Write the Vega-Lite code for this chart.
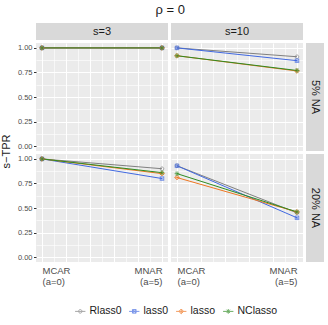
{
  "$schema": "https://vega.github.io/schema/vega-lite/v6.json",
  "padding": {"left": 0, "top": 4, "right": 0, "bottom": 0},
  "title": {"text": "ρ = 0", "fontSize": 13, "fontWeight": "normal", "color": "#1a1a1a", "anchor": "middle", "offset": 6, "dx": 8},
  "datasets": {
    "d": [
      {"s": "s=3", "na": "5% NA", "a": 0, "method": "Rlass0", "tpr": 1.0},
      {"s": "s=3", "na": "5% NA", "a": 5, "method": "Rlass0", "tpr": 1.0},
      {"s": "s=3", "na": "5% NA", "a": 0, "method": "lass0", "tpr": 1.0},
      {"s": "s=3", "na": "5% NA", "a": 5, "method": "lass0", "tpr": 1.0},
      {"s": "s=3", "na": "5% NA", "a": 0, "method": "lasso", "tpr": 1.0},
      {"s": "s=3", "na": "5% NA", "a": 5, "method": "lasso", "tpr": 1.0},
      {"s": "s=3", "na": "5% NA", "a": 0, "method": "NClasso", "tpr": 1.0},
      {"s": "s=3", "na": "5% NA", "a": 5, "method": "NClasso", "tpr": 1.0},
      {"s": "s=10", "na": "5% NA", "a": 0, "method": "Rlass0", "tpr": 1.0},
      {"s": "s=10", "na": "5% NA", "a": 5, "method": "Rlass0", "tpr": 0.91},
      {"s": "s=10", "na": "5% NA", "a": 0, "method": "lass0", "tpr": 1.0},
      {"s": "s=10", "na": "5% NA", "a": 5, "method": "lass0", "tpr": 0.87},
      {"s": "s=10", "na": "5% NA", "a": 0, "method": "lasso", "tpr": 0.92},
      {"s": "s=10", "na": "5% NA", "a": 5, "method": "lasso", "tpr": 0.765},
      {"s": "s=10", "na": "5% NA", "a": 0, "method": "NClasso", "tpr": 0.92},
      {"s": "s=10", "na": "5% NA", "a": 5, "method": "NClasso", "tpr": 0.77},
      {"s": "s=3", "na": "20% NA", "a": 0, "method": "Rlass0", "tpr": 1.0},
      {"s": "s=3", "na": "20% NA", "a": 5, "method": "Rlass0", "tpr": 0.9},
      {"s": "s=3", "na": "20% NA", "a": 0, "method": "lass0", "tpr": 1.0},
      {"s": "s=3", "na": "20% NA", "a": 5, "method": "lass0", "tpr": 0.8},
      {"s": "s=3", "na": "20% NA", "a": 0, "method": "lasso", "tpr": 1.0},
      {"s": "s=3", "na": "20% NA", "a": 5, "method": "lasso", "tpr": 0.85},
      {"s": "s=3", "na": "20% NA", "a": 0, "method": "NClasso", "tpr": 1.0},
      {"s": "s=3", "na": "20% NA", "a": 5, "method": "NClasso", "tpr": 0.86},
      {"s": "s=10", "na": "20% NA", "a": 0, "method": "Rlass0", "tpr": 0.93},
      {"s": "s=10", "na": "20% NA", "a": 5, "method": "Rlass0", "tpr": 0.45},
      {"s": "s=10", "na": "20% NA", "a": 0, "method": "lass0", "tpr": 0.93},
      {"s": "s=10", "na": "20% NA", "a": 5, "method": "lass0", "tpr": 0.4},
      {"s": "s=10", "na": "20% NA", "a": 0, "method": "lasso", "tpr": 0.81},
      {"s": "s=10", "na": "20% NA", "a": 5, "method": "lasso", "tpr": 0.46},
      {"s": "s=10", "na": "20% NA", "a": 0, "method": "NClasso", "tpr": 0.85},
      {"s": "s=10", "na": "20% NA", "a": 5, "method": "NClasso", "tpr": 0.46}
    ]
  },
  "config": {
    "font": "Liberation Sans",
    "view": {"stroke": null, "fill": "#ebebeb"},
    "axis": {"domain": false, "gridColor": "#ffffff", "labelColor": "#4d4d4d", "labelFontSize": 7.5, "tickColor": "#333333", "titleFontWeight": "normal", "titleColor": "#1a1a1a", "titleFontSize": 11, "labelOverlap": false},
    "legend": {"labelFontSize": 10.5, "labelColor": "#1a1a1a", "symbolStrokeWidth": 1, "symbolSize": 22, "columnPadding": 5, "labelOffset": 4}
  },
  "columns": 3,
  "spacing": {"row": 3, "column": 3},
  "bounds": "flush",
  "concat": [
    {"width": 132, "height": 17, "view": {"fill": "#d9d9d9", "stroke": null}, "data": {"values": [{"lab": "s=3"}]}, "mark": {"type": "text", "fontSize": 11, "color": "#1a1a1a"}, "encoding": {"text": {"field": "lab"}}},
    {"width": 132, "height": 17, "view": {"fill": "#d9d9d9", "stroke": null}, "data": {"values": [{"lab": "s=10"}]}, "mark": {"type": "text", "fontSize": 11, "color": "#1a1a1a"}, "encoding": {"text": {"field": "lab"}}},
    {"width": 18, "height": 17, "view": {"fill": null, "stroke": null}, "data": {"values": [{"lab": ""}]}, "mark": {"type": "text"}, "encoding": {"text": {"field": "lab"}}},
    {
      "width": 132, "height": 108, "data": {"name": "d"},
      "transform": [{"filter": "datum.s == 's=3' && datum.na == '5% NA'"}],
      "encoding": {
        "x": {"field": "a", "type": "quantitative", "scale": {"domain": [-0.25, 5.25], "nice": false, "zero": false}, "axis": {"values": [0,0.5,1,1.5,2,2.5,3,3.5,4,4.5,5], "labels": false, "ticks": false, "title": null, "gridWidth": {"condition": {"test": "datum.value % 1 == 0", "value": 1}, "value": 0.6}}},
        "y": {"field": "tpr", "type": "quantitative", "scale": {"domain": [-0.05, 1.05], "nice": false, "zero": false}, "axis": {"values": [0,0.125,0.25,0.375,0.5,0.625,0.75,0.875,1], "labelExpr": "(datum.value*4) % 1 == 0 ? format(datum.value, '.2f') : ''", "tickSize": 2.5, "tickOpacity": {"condition": {"test": "(datum.value*4) % 1 != 0", "value": 0}, "value": 1}, "gridWidth": {"condition": {"test": "(datum.value*4) % 1 == 0", "value": 1}, "value": 0.6}, "labelPadding": 1.5, "title": "s−TPR", "titleAnchor": "start", "titleAlign": "center", "titlePadding": 6}}
      },
      "layer": [
        {"mark": {"type": "line", "strokeWidth": 1}, "encoding": {"color": {"field": "method", "type": "nominal", "scale": {"domain": ["Rlass0", "lass0", "lasso", "NClasso"], "range": ["#808080", "#4169E1", "#EE7621", "#2E8B22"]}, "legend": null}}},
        {"mark": {"type": "point", "filled": false, "strokeWidth": 1, "size": 22}, "encoding": {"color": {"field": "method", "type": "nominal", "scale": {"domain": ["Rlass0", "lass0", "lasso", "NClasso"], "range": ["#808080", "#4169E1", "#EE7621", "#2E8B22"]}, "legend": null}, "shape": {"field": "method", "type": "nominal", "scale": {"domain": ["Rlass0", "lass0", "lasso", "NClasso"], "range": ["M0.75,0A0.75,0.75 0 1,1 -0.75,0A0.75,0.75 0 1,1 0.75,0", "M-0.75,-0.75H0.75V0.75H-0.75Z M-0.75,-0.75L0.75,0.75 M-0.75,0.75L0.75,-0.75", "M0,-1L1,0L0,1L-1,0Z M0,-1V1 M-1,0H1", "M0,-1V1 M-1,0H1 M-0.7,-0.7L0.7,0.7 M-0.7,0.7L0.7,-0.7"]}, "legend": null}}},
        {"transform": [{"filter": "false"}], "mark": {"type": "point", "filled": false, "strokeWidth": 1, "size": 22},
          "encoding": {
            "color": {"field": "method", "type": "nominal", "scale": {"domain": ["Rlass0", "lass0", "lasso", "NClasso"], "range": ["#808080", "#4169E1", "#EE7621", "#2E8B22"]}, "legend": {"orient": "none", "legendX": 39, "legendY": 263, "direction": "horizontal", "title": null}},
            "shape": {"field": "method", "type": "nominal", "scale": {"domain": ["Rlass0", "lass0", "lasso", "NClasso"], "range": ["M-2.2,0H2.2 M0.75,0A0.75,0.75 0 1,1 -0.75,0A0.75,0.75 0 1,1 0.75,0", "M-2.2,0H2.2 M-0.75,-0.75H0.75V0.75H-0.75Z M-0.75,-0.75L0.75,0.75 M-0.75,0.75L0.75,-0.75", "M-2.2,0H2.2 M0,-1L1,0L0,1L-1,0Z M0,-1V1", "M-2.2,0H2.2 M0,-1V1 M-0.7,-0.7L0.7,0.7 M-0.7,0.7L0.7,-0.7"]}, "legend": {"orient": "none", "legendX": 39, "legendY": 263, "direction": "horizontal", "title": null}}
          }
        }
      ],
      "resolve": {"scale": {"color": "independent", "shape": "independent"}}
    },
    {
      "width": 132, "height": 108, "data": {"name": "d"},
      "transform": [{"filter": "datum.s == 's=10' && datum.na == '5% NA'"}],
      "encoding": {
        "x": {"field": "a", "type": "quantitative", "scale": {"domain": [-0.25, 5.25], "nice": false, "zero": false}, "axis": {"values": [0,0.5,1,1.5,2,2.5,3,3.5,4,4.5,5], "labels": false, "ticks": false, "title": null, "gridWidth": {"condition": {"test": "datum.value % 1 == 0", "value": 1}, "value": 0.6}}},
        "y": {"field": "tpr", "type": "quantitative", "scale": {"domain": [-0.05, 1.05], "nice": false, "zero": false}, "axis": {"values": [0,0.125,0.25,0.375,0.5,0.625,0.75,0.875,1], "labels": false, "ticks": false, "title": null, "gridWidth": {"condition": {"test": "(datum.value*4) % 1 == 0", "value": 1}, "value": 0.6}}},
        "color": {"field": "method", "type": "nominal", "scale": {"domain": ["Rlass0", "lass0", "lasso", "NClasso"], "range": ["#808080", "#4169E1", "#EE7621", "#2E8B22"]}, "legend": null}
      },
      "layer": [
        {"mark": {"type": "line", "strokeWidth": 1}},
        {"mark": {"type": "point", "filled": false, "strokeWidth": 1, "size": 22}, "encoding": {"shape": {"field": "method", "type": "nominal", "scale": {"domain": ["Rlass0", "lass0", "lasso", "NClasso"], "range": ["M0.75,0A0.75,0.75 0 1,1 -0.75,0A0.75,0.75 0 1,1 0.75,0", "M-0.75,-0.75H0.75V0.75H-0.75Z M-0.75,-0.75L0.75,0.75 M-0.75,0.75L0.75,-0.75", "M0,-1L1,0L0,1L-1,0Z M0,-1V1 M-1,0H1", "M0,-1V1 M-1,0H1 M-0.7,-0.7L0.7,0.7 M-0.7,0.7L0.7,-0.7"]}, "legend": null}}}
      ]
    },
    {"width": 18, "height": 108, "view": {"fill": "#d9d9d9", "stroke": null}, "data": {"values": [{"lab": "5% NA"}]}, "mark": {"type": "text", "fontSize": 11, "color": "#1a1a1a", "angle": 90}, "encoding": {"text": {"field": "lab"}}},
    {
      "width": 132, "height": 108, "data": {"name": "d"},
      "transform": [{"filter": "datum.s == 's=3' && datum.na == '20% NA'"}],
      "encoding": {
        "x": {"field": "a", "type": "quantitative", "scale": {"domain": [-0.25, 5.25], "nice": false, "zero": false}, "axis": {"values": [0,0.5,1,1.5,2,2.5,3,3.5,4,4.5,5], "ticks": false, "title": null, "labelFontSize": 9.5, "labelLineHeight": 11, "labelPadding": 3, "labelExpr": "datum.value == 0 ? ['MCAR', '(a=0)'] : datum.value == 5 ? ['MNAR', '(a=5)'] : ''", "labelAlign": {"condition": {"test": "datum.value == 0", "value": "left"}, "value": "right"}, "gridWidth": {"condition": {"test": "datum.value % 1 == 0", "value": 1}, "value": 0.6}}},
        "y": {"field": "tpr", "type": "quantitative", "scale": {"domain": [-0.05, 1.05], "nice": false, "zero": false}, "axis": {"values": [0,0.125,0.25,0.375,0.5,0.625,0.75,0.875,1], "labelExpr": "(datum.value*4) % 1 == 0 ? format(datum.value, '.2f') : ''", "tickSize": 2.5, "tickOpacity": {"condition": {"test": "(datum.value*4) % 1 != 0", "value": 0}, "value": 1}, "gridWidth": {"condition": {"test": "(datum.value*4) % 1 == 0", "value": 1}, "value": 0.6}, "labelPadding": 1.5, "title": null}},
        "color": {"field": "method", "type": "nominal", "scale": {"domain": ["Rlass0", "lass0", "lasso", "NClasso"], "range": ["#808080", "#4169E1", "#EE7621", "#2E8B22"]}, "legend": null}
      },
      "layer": [
        {"mark": {"type": "line", "strokeWidth": 1}},
        {"mark": {"type": "point", "filled": false, "strokeWidth": 1, "size": 22}, "encoding": {"shape": {"field": "method", "type": "nominal", "scale": {"domain": ["Rlass0", "lass0", "lasso", "NClasso"], "range": ["M0.75,0A0.75,0.75 0 1,1 -0.75,0A0.75,0.75 0 1,1 0.75,0", "M-0.75,-0.75H0.75V0.75H-0.75Z M-0.75,-0.75L0.75,0.75 M-0.75,0.75L0.75,-0.75", "M0,-1L1,0L0,1L-1,0Z M0,-1V1 M-1,0H1", "M0,-1V1 M-1,0H1 M-0.7,-0.7L0.7,0.7 M-0.7,0.7L0.7,-0.7"]}, "legend": null}}}
      ]
    },
    {
      "width": 132, "height": 108, "data": {"name": "d"},
      "transform": [{"filter": "datum.s == 's=10' && datum.na == '20% NA'"}],
      "encoding": {
        "x": {"field": "a", "type": "quantitative", "scale": {"domain": [-0.25, 5.25], "nice": false, "zero": false}, "axis": {"values": [0,0.5,1,1.5,2,2.5,3,3.5,4,4.5,5], "ticks": false, "title": null, "labelFontSize": 9.5, "labelLineHeight": 11, "labelPadding": 3, "labelExpr": "datum.value == 0 ? ['MCAR', '(a=0)'] : datum.value == 5 ? ['MNAR', '(a=5)'] : ''", "labelAlign": {"condition": {"test": "datum.value == 0", "value": "left"}, "value": "right"}, "gridWidth": {"condition": {"test": "datum.value % 1 == 0", "value": 1}, "value": 0.6}}},
        "y": {"field": "tpr", "type": "quantitative", "scale": {"domain": [-0.05, 1.05], "nice": false, "zero": false}, "axis": {"values": [0,0.125,0.25,0.375,0.5,0.625,0.75,0.875,1], "labels": false, "ticks": false, "title": null, "gridWidth": {"condition": {"test": "(datum.value*4) % 1 == 0", "value": 1}, "value": 0.6}}},
        "color": {"field": "method", "type": "nominal", "scale": {"domain": ["Rlass0", "lass0", "lasso", "NClasso"], "range": ["#808080", "#4169E1", "#EE7621", "#2E8B22"]}, "legend": null}
      },
      "layer": [
        {"mark": {"type": "line", "strokeWidth": 1}},
        {"mark": {"type": "point", "filled": false, "strokeWidth": 1, "size": 22}, "encoding": {"shape": {"field": "method", "type": "nominal", "scale": {"domain": ["Rlass0", "lass0", "lasso", "NClasso"], "range": ["M0.75,0A0.75,0.75 0 1,1 -0.75,0A0.75,0.75 0 1,1 0.75,0", "M-0.75,-0.75H0.75V0.75H-0.75Z M-0.75,-0.75L0.75,0.75 M-0.75,0.75L0.75,-0.75", "M0,-1L1,0L0,1L-1,0Z M0,-1V1 M-1,0H1", "M0,-1V1 M-1,0H1 M-0.7,-0.7L0.7,0.7 M-0.7,0.7L0.7,-0.7"]}, "legend": null}}}
      ]
    },
    {"width": 18, "height": 108, "view": {"fill": "#d9d9d9", "stroke": null}, "data": {"values": [{"lab": "20% NA"}]}, "mark": {"type": "text", "fontSize": 11, "color": "#1a1a1a", "angle": 90}, "encoding": {"text": {"field": "lab"}}}
  ]
}
